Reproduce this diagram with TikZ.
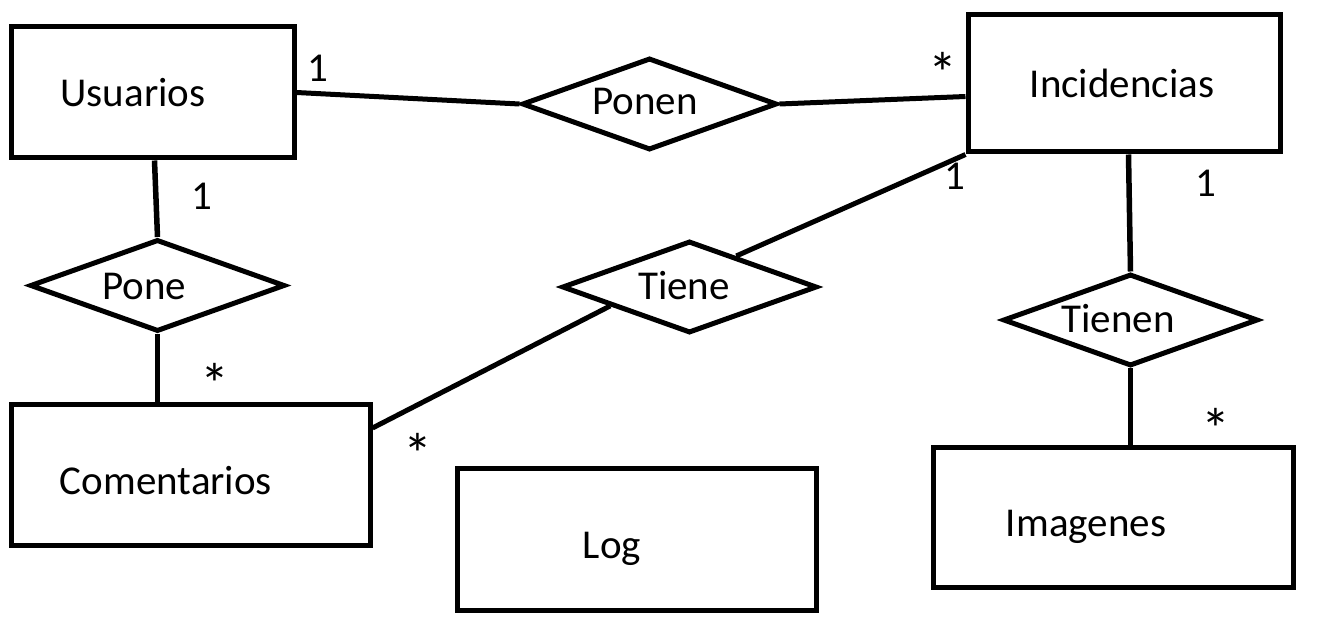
\documentclass[tikz,border=0pt]{standalone}
\usepackage{fontspec}
\setmainfont{Carlito}
\usetikzlibrary{shapes.geometric,calc}
\begin{document}
\begin{tikzpicture}[x=1pt,y=-1pt,
  ent/.style={draw,line width=5pt,inner sep=0pt,rectangle},
  rel/.style={draw,line width=5pt,inner sep=0pt,diamond,minimum width=255pt,minimum height=92pt},
  conn/.style={line width=5pt},
  vconn/.style={line width=5.5pt},
  txt/.style={font=\fontsize{41}{49}\selectfont,anchor=base,inner sep=0pt},
  star/.style={font=\fontsize{58}{60}\selectfont,anchor=north,inner sep=0pt}]
\useasboundingbox (0,0) rectangle (1318,636);
% entities
\node[ent,minimum width=283pt,minimum height=131pt] (usu) at (152.5,92.5) {};
\node[ent,minimum width=312pt,minimum height=137pt] (inc) at (1124,83.5) {};
\node[ent,minimum width=359pt,minimum height=140pt] (com) at (190.5,475) {};
\node[ent,minimum width=359pt,minimum height=142pt] (log) at (636.5,539) {};
\node[ent,minimum width=360pt,minimum height=140pt] (img) at (1113,517) {};
% relations
\node[rel] (ponen) at (649.5,104) {};
\node[rel] (pone) at (157.5,285.5) {};
\node[rel] (tiene) at (689.5,287) {};
\node[rel] (tienen) at (1130.5,320) {};
% entity texts
\node[txt] (usuT) at (133,107) {Usuarios};
\node[txt] (incT) at (1122,98) {Incidencias};
\node[txt] (comT) at (166,494) {Comentarios};
\node[txt] (logT) at (612,558) {Log};
\node[txt] (imgT) at (1086,536) {Imagenes};
% relation texts
\node[txt] (ponenT) at (645,115) {Ponen};
\node[txt] (poneT) at (144,300) {Pone};
\node[txt] (tieneT) at (684,300) {Tiene};
\node[txt] (tienenT) at (1118,333) {Tienen};
% connectors
\draw[conn] (usu.east) -- (ponen.west);
\draw[conn] (ponen.east) -- ([yshift=-13pt]inc.west);
\draw[vconn] ([xshift=-3pt]usu.south -| pone.north) -- (pone.north);
\draw[vconn] (pone.south) -- (pone.south |- com.north);
\draw[conn] (inc.south west) -- ($(tiene.north)!0.36!(tiene.east)$);
\draw[conn] ($(tiene.west)!0.39!(tiene.south)$) -- ([yshift=47pt]com.east);
\draw[vconn] ([xshift=-2pt]tienen.north |- inc.south) -- (tienen.north);
\draw[vconn] (tienen.south) -- (tienen.south |- img.north);
% cardinalities
\node[txt] (c1) at (318,82) {1};
\node[star] (c2) at (942.5,52) {*};
\node[txt] (c3) at (202,210) {1};
\node[star] (c4) at (215,363) {*};
\node[txt] (c5) at (955,190) {1};
\node[star] (c6) at (417.5,433) {*};
\node[txt] (c7) at (1206,197) {1};
\node[star] (c8) at (1216,408) {*};
\end{tikzpicture}
\end{document}
